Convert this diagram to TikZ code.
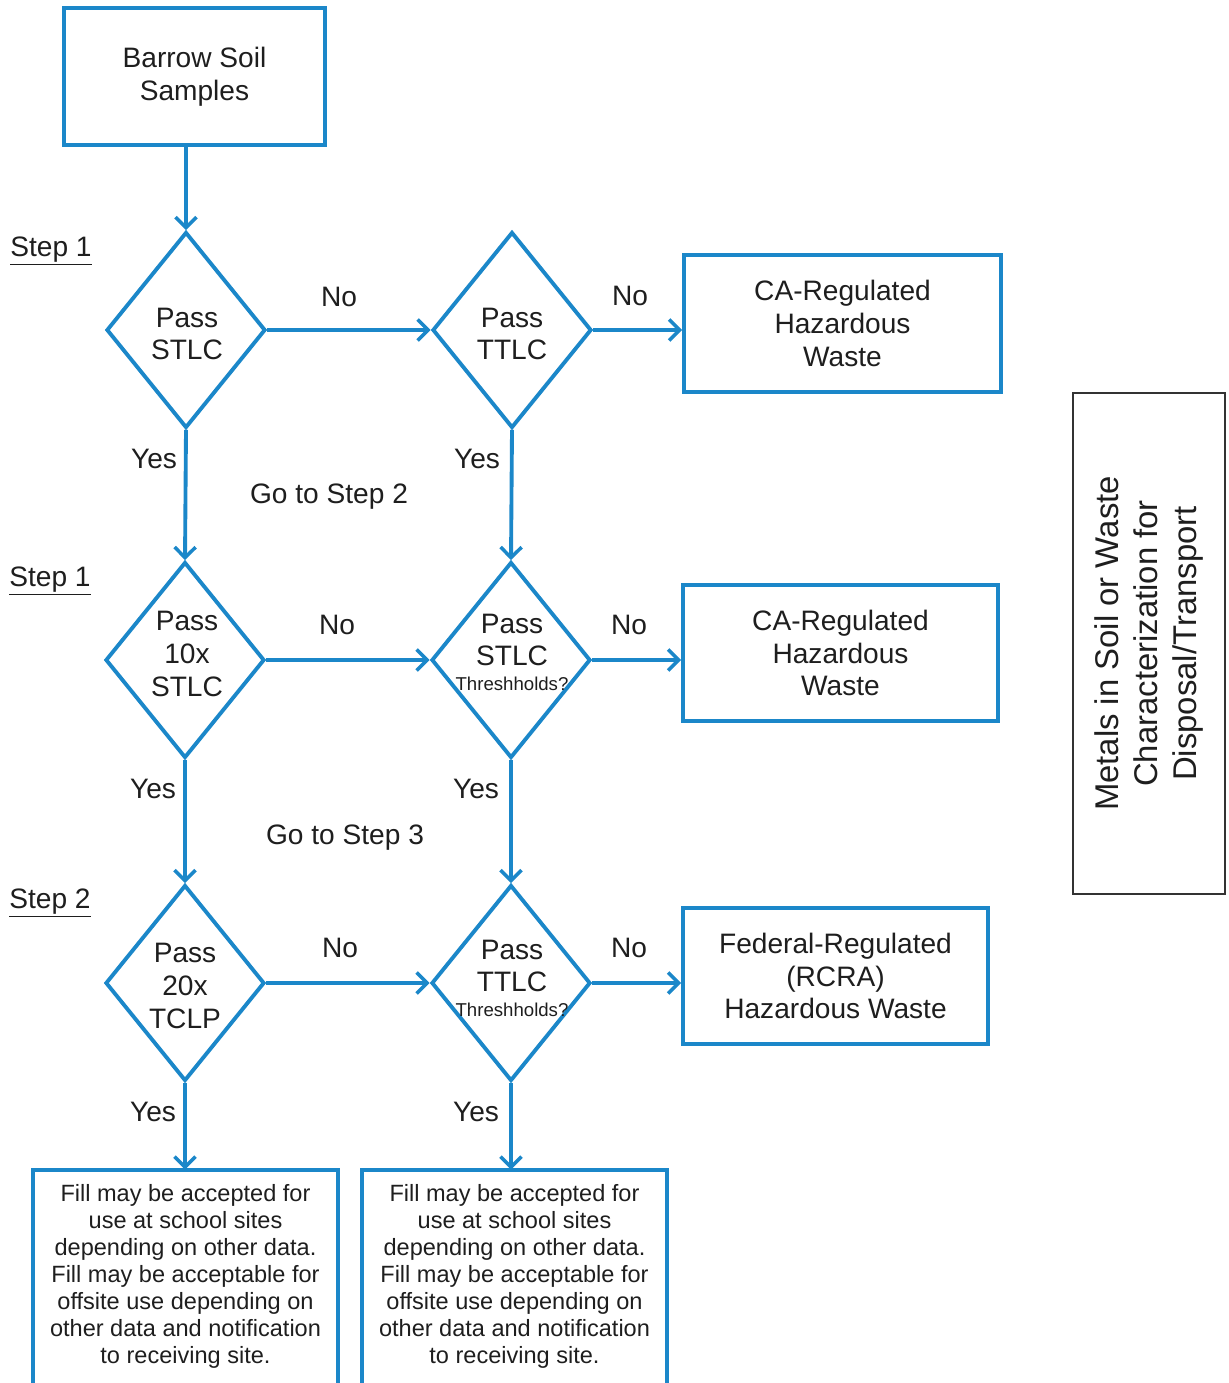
\documentclass[tikz,border=0pt]{standalone}
\usepackage{fontspec}
\setmainfont{Liberation Sans}
\usetikzlibrary{shapes.geometric,arrows.meta}
\definecolor{fblue}{RGB}{27,135,201}
\definecolor{ftext}{RGB}{30,30,30}
\tikzset{
  box/.style={draw=fblue,line width=2.2pt,rectangle,inner sep=0pt,align=center,text=ftext,
    font=\fontsize{16}{18.7}\selectfont},
  dia/.style={draw=fblue,line width=2.2pt,diamond,inner sep=0pt,minimum width=3.18cm,minimum height=3.92cm},
  dtext/.style={align=center,text=ftext,inner sep=0pt,font=\fontsize{16}{18.7}\selectfont},
  lbl/.style={text=ftext,inner sep=0pt,font=\fontsize{16}{18.7}\selectfont},
  fillbox/.style={rectangle,inner sep=0pt,align=center,text=ftext,minimum width=6.1cm,minimum height=4.26cm,
    font=\fontsize{13.4}{15.3}\selectfont},
  arr/.style={draw=fblue,line width=2.2pt,-{Straight Barb[length=6pt,width=12pt,line width=2pt]}},
}
\newcommand{\smalltxt}[1]{{\fontsize{10.6}{12}\selectfont #1}}
\begin{document}
\begin{tikzpicture}[x=0.02cm,y=-0.02cm]
\useasboundingbox (0,0) rectangle (1229,1383);

% boxes
\node[box,minimum width=5.22cm,minimum height=2.74cm] (barrow) at (194.5,76.5) {Barrow Soil\\Samples};
\node[box,minimum width=6.34cm,minimum height=2.74cm] (ca1) at (842.5,323.5) {CA-Regulated\\Hazardous\\Waste};
\node[box,minimum width=6.30cm,minimum height=2.72cm] (ca2) at (840.5,653) {CA-Regulated\\Hazardous\\Waste};
\node[box,minimum width=6.10cm,minimum height=2.72cm] (fed) at (835.5,976) {Federal-Regulated\\(RCRA)\\Hazardous Waste};

% diamonds
\node[dia] (d1) at (186,330) {};
\node[dia] (d2) at (512,330) {};
\node[dia] (d4) at (185,660) {};
\node[dia] (d5) at (511,660) {};
\node[dia] (d7) at (185,983) {};
\node[dia] (d8) at (511,983) {};

\node[dtext] (t1) at (187,334) {Pass\\STLC};
\node[dtext] (t2) at (512,334) {Pass\\TTLC};
\node[dtext] (t4) at (187,654) {Pass\\10x\\STLC};
\node[dtext] (t5) at (512,652) {Pass\\STLC\\[-5pt]\smalltxt{Threshholds?}};
\node[dtext] (t7) at (185,986) {Pass\\20x\\TCLP};
\node[dtext] (t8) at (512,978) {Pass\\TTLC\\[-5pt]\smalltxt{Threshholds?}};

% bottom fill boxes (open at the bottom edge)
\node[fillbox] (f1) at (185.5,1276.5) {Fill may be accepted for\\use at school sites\\depending on other data.\\Fill may be acceptable for\\offsite use depending on\\other data and notification\\to receiving site.};
\node[fillbox] (f2) at (514.5,1276.5) {Fill may be accepted for\\use at school sites\\depending on other data.\\Fill may be acceptable for\\offsite use depending on\\other data and notification\\to receiving site.};
\draw[draw=fblue,line width=2.2pt] (f1.south west) |- (f1.north east) -- (f1.south east);
\draw[draw=fblue,line width=2.2pt] (f2.south west) |- (f2.north east) -- (f2.south east);

% side title box
\node[draw=black!80,line width=1.1pt,rotate=90,inner sep=0pt,align=center,text=ftext,
  minimum width=10.02cm,minimum height=3.04cm,font=\fontsize{18.7}{22}\selectfont] (side) at (1149,643.5)
  {Metals in Soil or Waste\\Characterization for\\Disposal/Transport};

% step labels
\node[lbl] (s1) at (51,251) {\underline{Step 1}};
\node[lbl] (s2) at (50,581) {\underline{Step 1}};
\node[lbl] (s3) at (50,903) {\underline{Step 2}};

% connectors
\draw[arr] (d1.north |- barrow.south) -- (d1.north);
\draw[arr] (d1.east) -- (d2.west);
\draw[arr] (d2.east) -- (d2.east -| ca1.west);
\draw[arr] (d1.south) -- (d4.north);
\draw[arr] (d2.south) -- (d5.north);
\draw[arr] (d4.east) -- (d5.west);
\draw[arr] (d5.east) -- (d5.east -| ca2.west);
\draw[arr] (d4.south) -- (d7.north);
\draw[arr] (d5.south) -- (d8.north);
\draw[arr] (d7.east) -- (d8.west);
\draw[arr] (d8.east) -- (d8.east -| fed.west);
\draw[arr] (d7.south) -- (d7.south |- f1.north);
\draw[arr] (d8.south) -- (d8.south |- f2.north);

% connector labels
\node[lbl] (n1) at (339,297) {No};
\node[lbl] (n2) at (630,296) {No};
\node[lbl] (n3) at (337,625) {No};
\node[lbl] (n4) at (629,625) {No};
\node[lbl] (n5) at (340,948) {No};
\node[lbl] (n6) at (629,948) {No};
\node[lbl] (y1) at (154,459) {Yes};
\node[lbl] (y2) at (477,459) {Yes};
\node[lbl] (y3) at (153,789) {Yes};
\node[lbl] (y4) at (476,789) {Yes};
\node[lbl] (y5) at (153,1112) {Yes};
\node[lbl] (y6) at (476,1112) {Yes};
\node[lbl] (g2) at (329,497) {Go to Step 2};
\node[lbl] (g3) at (345,838) {Go to Step 3};
\end{tikzpicture}
\end{document}
